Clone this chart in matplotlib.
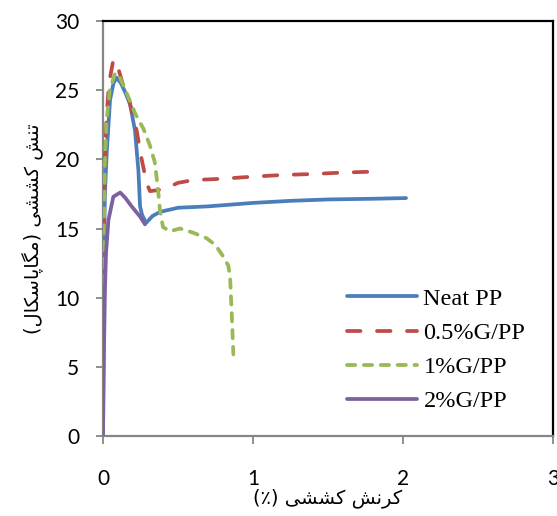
import matplotlib
matplotlib.use("Agg")
import matplotlib.pyplot as plt

# ---- data ----
neat_x = [0, 0.004, 0.013, 0.025, 0.047, 0.07, 0.091, 0.12, 0.15, 0.18, 0.213, 0.236, 0.247, 0.26, 0.287,
          0.33, 0.38, 0.5, 0.7, 1.0, 1.25, 1.5, 1.8, 2.02]
neat_y = [0, 12.0, 17.6, 20.5, 24.3, 25.5, 25.9, 25.5, 24.8, 24.0, 22.1, 19.2, 16.6, 16.0, 15.4,
          15.9, 16.2, 16.5, 16.6, 16.85, 17.0, 17.1, 17.15, 17.2]

g05_x = [0, 0.004, 0.012, 0.024, 0.04, 0.069, 0.09, 0.136, 0.169, 0.224, 0.258, 0.29, 0.313, 0.35, 0.42,
         0.5, 0.6, 0.8, 1.0, 1.2, 1.4, 1.59, 1.77]
g05_y = [0, 14.0, 20.0, 23.1, 25.5, 27.2, 27.0, 25.3, 24.5, 22.1, 20.0, 18.3, 17.7, 17.75, 17.9,
         18.3, 18.5, 18.6, 18.75, 18.87, 18.94, 19.04, 19.1]

g1_x = [0, 0.004, 0.012, 0.024, 0.045, 0.08, 0.1, 0.13, 0.169, 0.215, 0.27, 0.313, 0.345, 0.365, 0.38,
        0.4, 0.447, 0.513, 0.6, 0.69, 0.75, 0.8, 0.836, 0.847, 0.858, 0.869]
g1_y = [0, 13.0, 19.5, 22.8, 25.0, 26.2, 26.2, 25.5, 24.5, 23.3, 22.2, 21.0, 19.8, 18.0, 16.3,
        15.1, 14.8, 15.0, 14.7, 14.3, 13.8, 13.0, 12.3, 11.5, 8.9, 5.9]

g2_x = [0, 0.003, 0.007, 0.013, 0.02, 0.036, 0.069, 0.115, 0.15, 0.191, 0.247, 0.28]
g2_y = [0, 2.5, 6.5, 10.6, 13.2, 15.6, 17.3, 17.6, 17.2, 16.6, 15.86, 15.3]

labels = ["Neat PP", "0.5%G/PP", "1%G/PP", "2%G/PP"]
x_ticks = [0, 1, 2, 3]
y_ticks = [0, 5, 10, 15, 20, 25, 30]

# Persian labels (presentation forms, visual order)
# x: "کرنش کششی (٪)"   y: "تنش کششی (مگاپاسکال)"
w_kornesh = "\uFEB6\uFEE7\uFEAE\uFB90"
w_keshesh = "\uFBFD\uFEB8\uFEB8\uFB90"
w_tanesh = "\uFEB6\uFEE8\uFE97"
w_mpa = "\uFEDD\uFE8E\uFB91\uFEB3\uFE8E\uFB58\uFE8E\uFB95\uFEE3"
xlabel = "(\u066A) " + w_keshesh + " " + w_kornesh
ylabel = "(" + w_mpa + ") " + w_keshesh + " " + w_tanesh

colors = ["#4A7EBB", "#BE4B48", "#98B954", "#7D60A0"]

fig = plt.figure(figsize=(5.57, 5.16), dpi=100)
ax = fig.add_axes([103/557, 80/516, 450/557, 415/516])

lw = 2.7
ax.plot(neat_x, neat_y, color=colors[0], lw=lw, solid_capstyle="round", solid_joinstyle="round", label=labels[0], zorder=3)
ax.plot(g05_x, g05_y, color=colors[1], lw=lw, dashes=(3.6, 4.4), dash_capstyle="round", label=labels[1], zorder=4)
ax.plot(g1_x, g1_y, color=colors[2], lw=lw, dashes=(2.2, 2.3), dash_capstyle="round", label=labels[2], zorder=5)
ax.plot(g2_x, g2_y, color=colors[3], lw=lw, solid_capstyle="round", solid_joinstyle="round", label=labels[3], zorder=6)

ax.set_xlim(0, 3)
ax.set_ylim(0, 30)
ax.set_xticks(x_ticks)
ax.set_yticks(y_ticks)
ax.set_xticklabels([str(v) for v in x_ticks], family="Lato", fontsize=15)
ax.set_yticklabels([str(v) for v in y_ticks], family="Lato", fontsize=15)
ax.tick_params(axis="y", direction="out", length=5, width=1.3, color="#868686", pad=12)
ax.tick_params(axis="x", direction="out", length=6, width=1.3, color="#868686", pad=18)

for s in ["left", "bottom"]:
    ax.spines[s].set_color("#868686")
    ax.spines[s].set_linewidth(1.6)
for s in ["top", "right"]:
    ax.spines[s].set_color("black")
    ax.spines[s].set_linewidth(1.6)

ax.set_xlabel(xlabel, family=["DejaVu Sans"], fontsize=14, labelpad=-1)
ax.set_ylabel(ylabel, family=["DejaVu Sans"], fontsize=14, labelpad=8)

leg = ax.legend(loc="upper left", bbox_to_anchor=(0.542, 0.357), frameon=False,
                prop={"family": "Liberation Serif", "size": 17.5},
                handlelength=2.9, handletextpad=0.25, labelspacing=0.5,
                borderpad=0, borderaxespad=0)

fig.savefig("out.png", dpi=100)
